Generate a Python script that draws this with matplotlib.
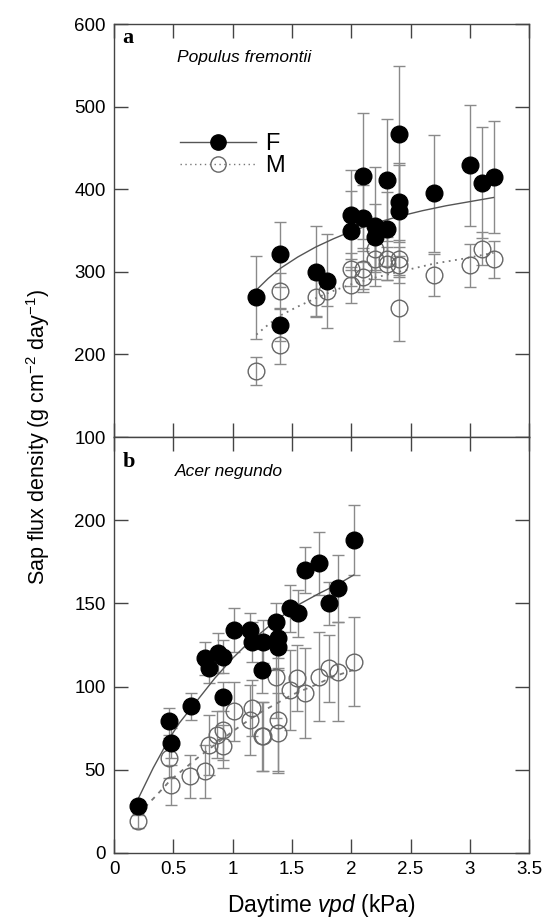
import numpy as np
import matplotlib.pyplot as plt
from matplotlib.lines import Line2D

plt.rcParams['font.family'] = ['Liberation Sans', 'DejaVu Sans']
plt.rcParams['mathtext.fontset'] = 'custom'
plt.rcParams['mathtext.rm'] = 'Liberation Sans'
plt.rcParams['mathtext.it'] = 'Liberation Sans:italic'

# panel a - Populus fremontii
a_f_x = [1.2, 1.4, 1.4, 1.7, 1.8, 2.0, 2.0, 2.1, 2.1, 2.2, 2.2, 2.3, 2.3, 2.4, 2.4, 2.4, 2.7, 3.0, 3.1, 3.2]
a_f_y = [269, 321, 236, 300, 289, 369, 350, 416, 365, 355, 342, 411, 352, 467, 384, 374, 395, 429, 408, 415]
a_f_err = [50, 39, 20, 55, 57, 54, 48, 76, 40, 72, 40, 74, 45, 82, 48, 55, 71, 73, 67, 68]

a_m_x = [1.2, 1.4, 1.4, 1.7, 1.8, 2.0, 2.0, 2.1, 2.1, 2.2, 2.2, 2.3, 2.3, 2.4, 2.4, 2.4, 2.7, 3.0, 3.1, 3.2]
a_m_y = [180, 277, 212, 269, 277, 284, 303, 304, 294, 328, 315, 316, 310, 316, 308, 256, 296, 308, 328, 315]
a_m_err = [17, 22, 23, 22, 18, 22, 20, 25, 18, 28, 24, 26, 20, 22, 22, 40, 25, 26, 20, 22]

# fitted curves
a_fit_f_x = [1.2, 1.3, 1.4, 1.55, 1.7, 1.85, 2.0, 2.2, 2.4, 2.6, 2.8, 3.0, 3.2]
a_fit_f_y = [278, 292, 304, 318, 330, 340, 349, 359, 367, 374, 380, 385, 390]
a_fit_m_x = [1.2, 1.3, 1.4, 1.55, 1.7, 1.85, 2.0, 2.2, 2.4, 2.7, 2.95, 3.2]
a_fit_m_y = [224, 236, 247, 258, 268, 277, 285, 293, 300, 310, 316, 323]

# panel b - Acer negundo
b_f_x = [0.2, 0.46, 0.48, 0.65, 0.77, 0.80, 0.88, 0.92, 0.92, 1.01, 1.15, 1.16, 1.26, 1.25, 1.37, 1.38, 1.38, 1.48, 1.55, 1.61, 1.73, 1.81, 1.89, 2.02]
b_f_y = [28, 79, 66, 88, 117, 111, 120, 118, 94, 134, 134, 127, 127, 110, 139, 129, 124, 147, 144, 170, 174, 150, 159, 188]
b_f_err = [4, 8, 9, 8, 10, 9, 12, 10, 9, 13, 10, 12, 13, 14, 11, 12, 14, 14, 14, 14, 19, 13, 20, 21]

b_m_x = [0.2, 0.46, 0.48, 0.64, 0.77, 0.80, 0.87, 0.92, 0.92, 1.01, 1.15, 1.16, 1.25, 1.26, 1.37, 1.38, 1.38, 1.48, 1.54, 1.61, 1.73, 1.81, 1.89, 2.02]
b_m_y = [19, 57, 41, 46, 49, 65, 71, 74, 64, 85, 80, 87, 70, 70, 106, 80, 72, 98, 105, 96, 106, 111, 109, 115]
b_m_err = [4, 12, 12, 13, 16, 18, 14, 18, 13, 18, 21, 17, 21, 21, 25, 31, 24, 24, 20, 27, 27, 20, 30, 27]

b_fit_f_x = [0.2, 0.33, 0.46, 0.55, 0.65, 0.75, 0.85, 1.0, 1.1, 1.2, 1.37, 1.55, 1.73, 1.9, 2.02]
b_fit_f_y = [32, 51, 68, 78, 87, 96, 105, 117, 124, 130, 140, 149, 156, 162, 167]
b_fit_m_x = [0.2, 0.35, 0.48, 0.6, 0.72, 0.85, 1.0, 1.2, 1.35, 1.5, 1.7, 1.85, 2.02]
b_fit_m_y = [23, 34, 44, 51, 58, 65, 73, 83, 89, 95, 101, 106, 110]

xticks = [0, 0.5, 1, 1.5, 2, 2.5, 3, 3.5]
xticklabels = ['0', '0.5', '1', '1.5', '2', '2.5', '3', '3.5']

fig = plt.figure(figsize=(5.44, 9.24), dpi=100)
axa = fig.add_axes([0.2096, 0.527, 0.763, 0.447])
axb = fig.add_axes([0.2096, 0.077, 0.763, 0.450])

ecol = '#8a8a8a'
fcol = '#555555'


def draw_panel(ax, fx, fy, fe, mx, my, me, cfx, cfy, cmx, cmy, mstyle):
    ax.errorbar(mx, my, yerr=me, fmt='none', ecolor=ecol, elinewidth=1, capsize=4, capthick=1, zorder=2)
    ax.errorbar(fx, fy, yerr=fe, fmt='none', ecolor=ecol, elinewidth=1, capsize=4, capthick=1, zorder=2)
    ax.plot(cfx, cfy, '-', color=fcol, lw=1, zorder=3)
    ax.plot(cmx, cmy, color='#777777', lw=1.3, dashes=mstyle, zorder=3)
    ax.plot(mx, my, 'o', ms=12, mfc='none', mec='#666666', mew=1, zorder=4)
    ax.plot(fx, fy, 'o', ms=12, mfc='black', mec='black', zorder=5)
    ax.set_xlim(0, 3.5)
    ax.set_xticks(xticks)
    ax.tick_params(direction='in', length=10, width=1, color='#444444', top=True, right=True,
                   labelsize=13.5, pad=6)
    for s in ax.spines.values():
        s.set_color('#444444')
        s.set_linewidth(1)


draw_panel(axa, a_f_x, a_f_y, a_f_err, a_m_x, a_m_y, a_m_err, a_fit_f_x, a_fit_f_y,
           a_fit_m_x, a_fit_m_y, (1, 2.5))
draw_panel(axb, b_f_x, b_f_y, b_f_err, b_m_x, b_m_y, b_m_err, b_fit_f_x, b_fit_f_y,
           b_fit_m_x, b_fit_m_y, (2.5, 3))

axa.set_ylim(100, 600)
axa.set_yticks([100, 200, 300, 400, 500, 600])
axa.set_xticklabels([])
axb.set_ylim(0, 250)
axb.set_yticks([0, 50, 100, 150, 200])
axb.set_xticklabels(xticklabels)

axa.text(0.02, 0.966, 'a', transform=axa.transAxes, fontsize=16, fontweight='bold',
         family='Liberation Serif', va='center', ha='left')
axa.text(0.152, 0.918, 'Populus fremontii', transform=axa.transAxes, fontsize=12.5,
         style='italic', va='center', ha='left')
axb.text(0.02, 0.94, 'b', transform=axb.transAxes, fontsize=16, fontweight='bold',
         family='Liberation Serif', va='center', ha='left')
axb.text(0.147, 0.916, 'Acer negundo', transform=axb.transAxes, fontsize=12.5,
         style='italic', va='center', ha='left')

handles = [Line2D([], [], color=fcol, lw=1, marker='o', ms=11, mfc='black', mec='black'),
           Line2D([], [], color='#777777', lw=1, dashes=(1, 2.5), marker='o', ms=11, mfc='none', mec='#666666')]
axa.legend(handles, ['F', 'M'], loc='upper left', bbox_to_anchor=(0.16, 0.735), frameon=False,
           fontsize=17, handlelength=3.2, handletextpad=0.4, labelspacing=0.0, borderpad=0,
           borderaxespad=0)

fig.text(0.07, 0.527, 'Sap flux density (g cm$^{-2}$ day$^{-1}$)', rotation=90,
         fontsize=15.5, va='center', ha='center')
axb.set_xlabel('Daytime $\\it{vpd}$ (kPa)', fontsize=16.5, labelpad=10)

fig.savefig('out.png', dpi=100)
